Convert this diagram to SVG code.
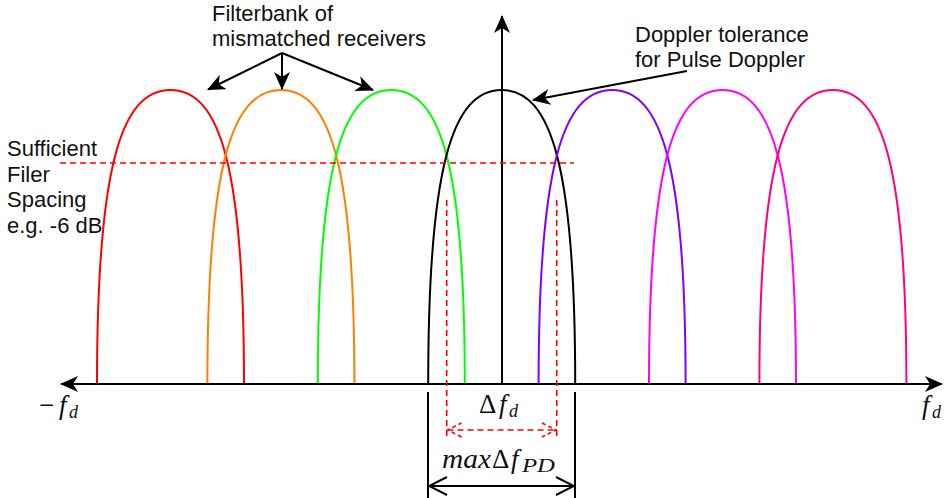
<svg xmlns="http://www.w3.org/2000/svg" width="944" height="498" viewBox="0 0 944 498">
<style>
.lbl{font-family:"Liberation Sans",Arial,sans-serif;font-size:22px;fill:#111}
.math{font-family:"Liberation Serif","Times New Roman",serif;font-size:27px;fill:#111}
.mi{font-style:italic}
.sub{font-family:"Liberation Serif","Times New Roman",serif;font-style:italic;font-size:18px;fill:#111}
.curve{fill:none;stroke-width:2}
.ax{stroke:#000;stroke-width:2;fill:none}
.rd{stroke:#f00;stroke-width:1.6;stroke-dasharray:6 4;fill:none}
</style>
<defs>
<marker id="fa" viewBox="0 0 18 16" refX="17" refY="8" markerWidth="18" markerHeight="16" markerUnits="userSpaceOnUse" orient="auto-start-reverse">
<path d="M0,0 L18,8 L0,16 L5,8 z" fill="#000"/>
</marker>
<marker id="oa" viewBox="0 0 20 20" refX="19" refY="10" markerWidth="20" markerHeight="20" markerUnits="userSpaceOnUse" orient="auto-start-reverse">
<path d="M1,1 L19,10 L1,19" fill="none" stroke="#000" stroke-width="2"/>
</marker>
<marker id="ra" viewBox="0 0 16 16" refX="15" refY="8" markerWidth="16" markerHeight="16" markerUnits="userSpaceOnUse" orient="auto-start-reverse">
<path d="M1,1 L15,8 L1,15" fill="none" stroke="#f00" stroke-width="1.6" stroke-dasharray="4 3"/>
</marker>
</defs>
<rect width="944" height="498" fill="#fff"/>

<g id="curves">
<g id="filter-red"><path class="curve" stroke="#ff0000" d="M97,384 C97,169 120.5,90 170.5,90 C220.5,90 244,169 244,384"/></g>
<g id="filter-orange"><path class="curve" stroke="#ff8000" d="M207.4,384 C207.4,169 230.9,90 280.9,90 C330.9,90 354.4,169 354.4,384"/></g>
<g id="filter-green"><path class="curve" stroke="#00ff00" d="M317.8,384 C317.8,169 341.3,90 391.3,90 C441.3,90 464.8,169 464.8,384"/></g>
<g id="filter-black"><path class="curve" stroke="#000000" d="M428.2,384 C428.2,169 451.7,90 501.7,90 C551.7,90 575.2,169 575.2,384"/></g>
<g id="filter-purple"><path class="curve" stroke="#7f00ff" d="M538.6,384 C538.6,169 562.1,90 612.1,90 C662.1,90 685.6,169 685.6,384"/></g>
<g id="filter-magenta"><path class="curve" stroke="#ff00ff" d="M649,384 C649,169 672.5,90 722.5,90 C772.5,90 796,169 796,384"/></g>
<g id="filter-pink"><path class="curve" stroke="#ff0080" d="M759.4,384 C759.4,169 782.9,90 832.9,90 C882.9,90 906.4,169 906.4,384"/></g>
</g>

<g id="connectors">
<line class="ax" x1="61" y1="384" x2="942" y2="384" marker-start="url(#fa)" marker-end="url(#fa)"/>
<line class="ax" x1="502" y1="384" x2="502" y2="16" marker-end="url(#fa)"/>
<line class="rd" x1="60" y1="163" x2="574" y2="163"/>
<line class="rd" x1="446.7" y1="200" x2="446.7" y2="437"/>
<line class="rd" x1="556.7" y1="200" x2="556.7" y2="437"/>
<line class="rd" x1="447.5" y1="430" x2="556" y2="430" marker-start="url(#ra)" marker-end="url(#ra)"/>
<line class="ax" x1="428" y1="392" x2="428" y2="498"/>
<line class="ax" x1="575" y1="392" x2="575" y2="498"/>
<line class="ax" x1="429" y1="486" x2="574" y2="486" marker-start="url(#oa)" marker-end="url(#oa)"/>
<line class="ax" x1="282" y1="53" x2="208" y2="89.5" marker-end="url(#fa)"/>
<line class="ax" x1="282" y1="53" x2="282" y2="89" marker-end="url(#fa)"/>
<line class="ax" x1="282" y1="53" x2="373" y2="90" marker-end="url(#fa)"/>
<line class="ax" x1="687" y1="71" x2="533" y2="100" marker-end="url(#fa)"/>
</g>

<g id="label-filterbank">
<text class="lbl" x="212" y="21">Filterbank of</text>
<text class="lbl" x="212" y="46">mismatched receivers</text>
</g>
<g id="label-doppler">
<text class="lbl" x="635" y="42">Doppler tolerance</text>
<text class="lbl" x="635" y="67">for Pulse Doppler</text>
</g>
<g id="label-spacing">
<text class="lbl" x="7" y="156">Sufficient</text>
<text class="lbl" x="7" y="181.5">Filer</text>
<text class="lbl" x="7" y="207">Spacing</text>
<text class="lbl" x="7" y="232.5">e.g. -6 dB</text>
</g>
<g id="label-neg-fd">
<text class="math" x="39" y="414">−</text>
<text class="math mi" x="59" y="414">f</text>
<text class="sub" x="69" y="418">d</text>
</g>
<g id="label-fd">
<text class="math mi" x="922" y="414">f</text>
<text class="sub" x="932" y="418">d</text>
</g>
<g id="label-dfd">
<text class="math" x="479" y="413">Δ</text>
<text class="math mi" x="499" y="413">f</text>
<text class="sub" x="509" y="417">d</text>
</g>
<g id="label-maxdfpd">
<text class="math mi" x="442" y="468" textLength="49" lengthAdjust="spacingAndGlyphs">max</text>
<text class="math" x="492" y="468">Δ</text>
<text class="math mi" x="511" y="468">f</text>
<text class="sub" x="522" y="472" textLength="33" lengthAdjust="spacingAndGlyphs">PD</text>
</g>
</svg>
